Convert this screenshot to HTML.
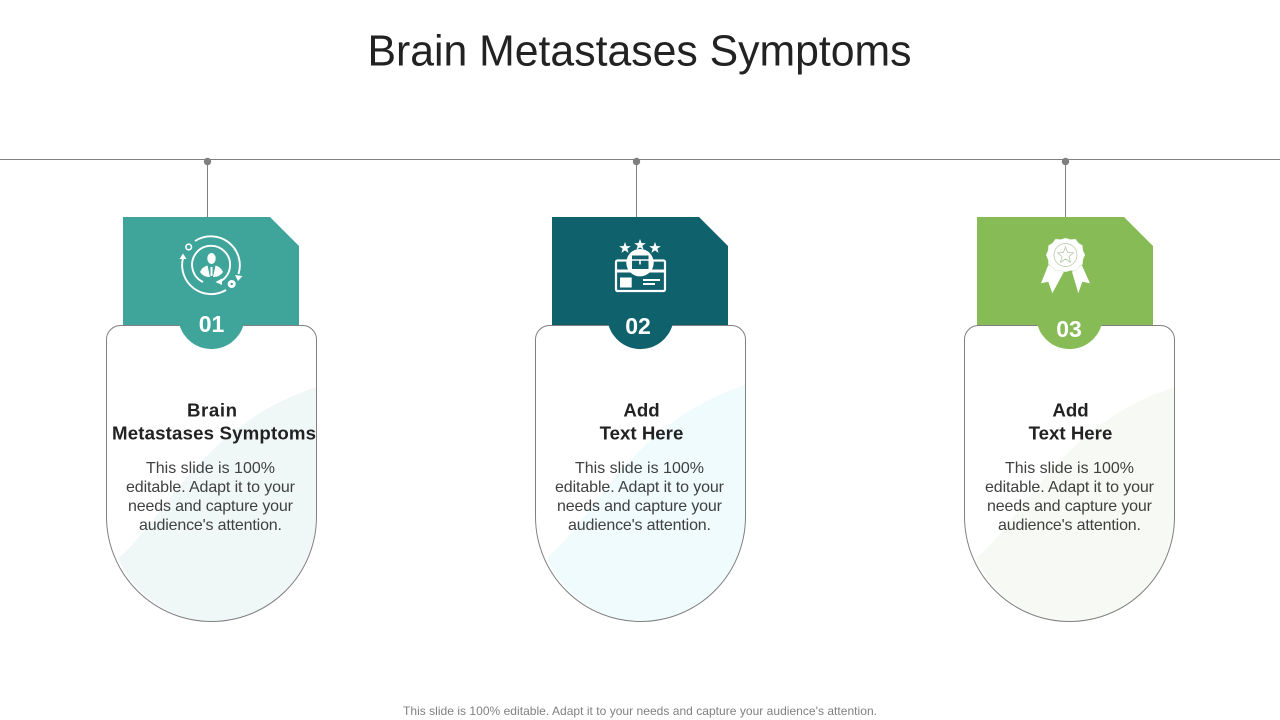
<!DOCTYPE html>
<html><head><meta charset="utf-8">
<style>
html,body{margin:0;padding:0;background:#fff;width:1280px;height:720px;overflow:hidden}
svg{display:block}
text{font-family:"Liberation Sans",sans-serif}
.h{font-size:18.67px;font-weight:bold;fill:#222;text-anchor:middle}
.b{font-size:16px;fill:#404040;text-anchor:middle}
.n{font-size:23px;font-weight:bold;fill:#fff;text-anchor:middle}
</style></head><body>
<svg width="1280" height="720" viewBox="0 0 1280 720" xmlns="http://www.w3.org/2000/svg">
<defs>
<g id="star"><polygon points="0,-6 1.5,-1.9 5.8,-1.9 2.3,0.8 3.6,4.9 0,2.4 -3.6,4.9 -2.3,0.8 -5.8,-1.9 -1.5,-1.9" fill="#fff"/></g>
</defs>
<text x="639.5" y="65.5" font-size="44" fill="#222" text-anchor="middle" textLength="544" lengthAdjust="spacingAndGlyphs">Brain Metastases Symptoms</text>

<line x1="0" y1="159.5" x2="1280" y2="159.5" stroke="#808080" stroke-width="1"/>
<g fill="#7f7f7f"><circle cx="207.5" cy="161.5" r="3.7"/><circle cx="636.5" cy="161.5" r="3.7"/><circle cx="1065.5" cy="161.5" r="3.7"/></g>
<g stroke="#808080" stroke-width="1"><line x1="207.5" y1="161" x2="207.5" y2="217"/><line x1="636.5" y1="161" x2="636.5" y2="217"/><line x1="1065.5" y1="161" x2="1065.5" y2="217"/></g>

<!-- tags -->
<polygon points="123,217 270,217 299,246 299,326 123,326" fill="#3fa59b"/>
<polygon points="552,217 699,217 728,246 728,326 552,326" fill="#0f616c"/>
<polygon points="977,217 1124,217 1153,246 1153,326 977,326" fill="#86bb55"/>

<!-- card 1 -->
<g>
<path d="M118,558 C165,520 200,425 316.5,387 L316.5,516.5 A105,105 0 0 1 211.5,621.5 A105,105 0 0 1 118,558Z" fill="#f0f8f7"/>
<path d="M106.5,339.5 A14,14 0 0 1 120.5,325.5 H302.5 A14,14 0 0 1 316.5,339.5 V516.5 A105,105 0 0 1 106.5,516.5Z" fill="none" stroke="#808080" stroke-width="1"/>
<path d="M179.5,325 H243.5 A33.3,33.3 0 0 1 179.5,325Z" fill="#3fa59b"/>
<text class="n" x="211.5" y="332">01</text>
<text class="h" x="212" y="416.5" textLength="50">Brain</text>
<text class="h" x="214" y="439.5" textLength="204">Metastases Symptoms</text>
<text class="b" x="210.5" y="473" textLength="129">This slide is 100%</text>
<text class="b" x="210.5" y="492" textLength="169">editable. Adapt it to your</text>
<text class="b" x="210.5" y="511" textLength="165">needs and capture your</text>
<text class="b" x="210.5" y="530" textLength="143">audience's attention.</text>
</g>

<!-- card 2 -->
<g>
<path d="M547,558 C594,520 629,423 745.5,385 L745.5,516.5 A105,105 0 0 1 640.5,621.5 A105,105 0 0 1 547,558Z" fill="#effbfc"/>
<path d="M535.5,339.5 A14,14 0 0 1 549.5,325.5 H731.5 A14,14 0 0 1 745.5,339.5 V516.5 A105,105 0 0 1 535.5,516.5Z" fill="none" stroke="#808080" stroke-width="1"/>
<path d="M608.5,325 H672.5 A33.3,33.3 0 0 1 608.5,325Z" fill="#0f616c"/>
<text class="n" x="638" y="334">02</text>
<text class="h" x="641.5" y="416.5">Add</text>
<text class="h" x="641.5" y="439.5">Text Here</text>
<text class="b" x="639.5" y="473" textLength="129">This slide is 100%</text>
<text class="b" x="639.5" y="492" textLength="169">editable. Adapt it to your</text>
<text class="b" x="639.5" y="511" textLength="165">needs and capture your</text>
<text class="b" x="639.5" y="530" textLength="143">audience's attention.</text>
</g>

<!-- card 3 -->
<g>
<path d="M976,558 C1023,520 1058,425 1174.5,387 L1174.5,516.5 A105,105 0 0 1 1069.5,621.5 A105,105 0 0 1 976,558Z" fill="#f7f9f4"/>
<path d="M964.5,339.5 A14,14 0 0 1 978.5,325.5 H1160.5 A14,14 0 0 1 1174.5,339.5 V516.5 A105,105 0 0 1 964.5,516.5Z" fill="none" stroke="#808080" stroke-width="1"/>
<path d="M1037.5,325 H1101.5 A33.3,33.3 0 0 1 1037.5,325Z" fill="#86bb55"/>
<text class="n" x="1069" y="337">03</text>
<text class="h" x="1070.5" y="416.5">Add</text>
<text class="h" x="1070.5" y="439.5">Text Here</text>
<text class="b" x="1069.5" y="473" textLength="129">This slide is 100%</text>
<text class="b" x="1069.5" y="492" textLength="169">editable. Adapt it to your</text>
<text class="b" x="1069.5" y="511" textLength="165">needs and capture your</text>
<text class="b" x="1069.5" y="530" textLength="143">audience's attention.</text>
</g>

<!-- icon 1 -->
<g fill="none" stroke="#fff" stroke-width="1.9">
<path d="M195,241 A29,29 0 0 1 238.5,274"/>
<path d="M226,290 A29,29 0 0 1 183,258"/>
<path d="M203,282 A19,19 0 1 1 221,281"/>
<circle cx="188.7" cy="247" r="2.8" stroke-width="1.6"/>
</g>
<g fill="#fff">
<polygon points="179.5,259 186.5,259 183,253.5"/>
<polygon points="235,275 242.5,276 238,281"/>
<polygon points="215.5,282 222,278.5 222,285"/>
<circle cx="231.7" cy="284" r="4"/>
<ellipse cx="211.5" cy="258.5" rx="4.2" ry="5.5"/>
<path d="M200,272 Q202,267 207.5,265.5 L210,277 Q203,277 200,272Z"/>
<path d="M223,272 Q221,267 215.5,265.5 L213,277 Q220,277 223,272Z"/>
<rect x="210.5" y="267" width="2" height="9"/>
</g>
<circle cx="231.7" cy="284" r="1.2" fill="#3fa59b"/>

<!-- icon 2 -->
<g transform="translate(625,248)"><use href="#star"/></g>
<g transform="translate(640,245)"><use href="#star"/></g>
<g transform="translate(655,248)"><use href="#star"/></g>
<rect x="616" y="260.5" width="49" height="30.5" rx="1.5" fill="none" stroke="#fff" stroke-width="2.2"/>
<rect x="616" y="269.5" width="49" height="3" fill="#fff"/>
<circle cx="640" cy="262.7" r="13.7" fill="#fff"/>
<rect x="632" y="255.5" width="16.5" height="13.5" fill="#0f616c"/>
<path d="M632,260 H648.5 M640,260 V264.5" stroke="#fff" stroke-width="1.6" fill="none"/>
<rect x="620" y="277.5" width="11.7" height="10" fill="#fff"/>
<rect x="643" y="279" width="17" height="2" fill="#fff"/>
<rect x="643" y="283" width="12" height="2" fill="#fff"/>

<!-- icon 3 -->
<polygon points="1048.3,265 1041,283.3 1048.3,281.7 1052.3,293.3 1064,271.7" fill="#fff"/>
<polygon points="1072,271.7 1078.3,293.3 1082.3,281.7 1090,283.3 1081.7,265" fill="#fff"/>
<path d="M1065.5,238 l5,1.5 5,-.5 3,4 4,2.5 .5,5 2,4.5 -2,4.5 -.5,5 -4,2.5 -3,4 -5,-.5 -5,1.5 -5,-1.5 -5,.5 -3,-4 -4,-2.5 -.5,-5 -2,-4.5 2,-4.5 .5,-5 4,-2.5 3,-4 5,.5Z" fill="#fff" stroke="#c9d9b8" stroke-width=".4"/>
<circle cx="1065.5" cy="255" r="11.5" fill="none" stroke="#b4c9a2" stroke-width=".7"/>
<polygon points="1065.5,247 1067.7,252.5 1073.5,252.8 1069,256.5 1070.5,262.2 1065.5,259 1060.5,262.2 1062,256.5 1057.5,252.8 1063.3,252.5" fill="none" stroke="#b4c9a2" stroke-width=".8"/>

<text x="640" y="715" font-size="12" fill="#808080" text-anchor="middle" textLength="474">This slide is 100% editable. Adapt it to your needs and capture your audience's attention.</text>
</svg>
</body></html>
